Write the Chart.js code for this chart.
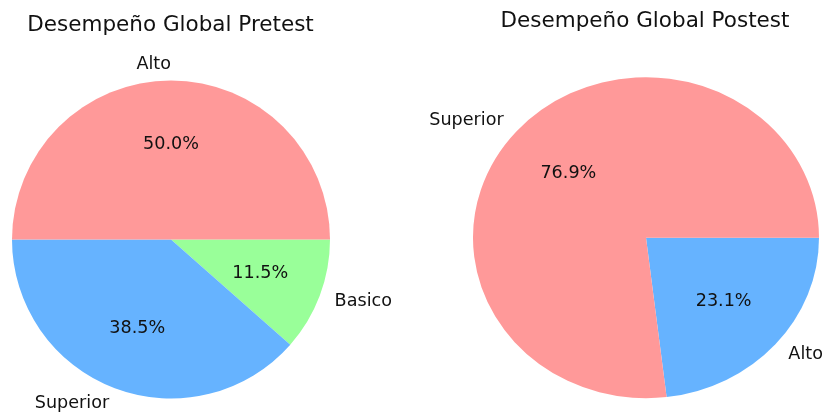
<!DOCTYPE html>
<html>
<head>
<meta charset="utf-8">
<script src="https://cdn.jsdelivr.net/npm/chart.js@4"></script>
<style>
  html, body { margin: 0; padding: 0; background: #fff; }
  .wrap { position: absolute; left: 0; top: 0; width: 825px; height: 415px; }
</style>
</head>
<body>
<div class="wrap"><canvas id="preChart"></canvas></div>
<div class="wrap"><canvas id="postChart"></canvas></div>
<script>
const preLabels = ["Alto", "Superior", "Basico"];
const preValues = [50.0, 38.5, 11.5];
const preColors = ["#ff9999", "#66b3ff", "#99ff99"];

const postLabels = ["Superior", "Alto"];
const postValues = [76.9, 23.1];
const postColors = ["#ff9999", "#66b3ff"];

const FONT = "'DejaVu Sans', sans-serif";

// matplotlib draws slices counterclockwise from 3 o'clock;
// Chart.js goes clockwise, so feed it the reversed order.
function rev(arr) {
  return arr.slice().reverse();
}

// stretch the pie horizontally (axes not equal) and draw labels / titles
function piePlugin(title, titleX, titleY, stretchX) {
  return {
    id: "pieText",
    beforeDatasetsDraw(chart) {
      const arc = chart.getDatasetMeta(0).data[0];
      const ctx = chart.ctx;
      ctx.save();
      ctx.translate(arc.x, arc.y);
      ctx.scale(stretchX, 1);
      ctx.translate(-arc.x, -arc.y);
    },
    afterDatasetsDraw(chart) {
      chart.ctx.restore();
    },
    afterDraw(chart) {
      const ctx = chart.ctx;
      const meta = chart.getDatasetMeta(0);
      const values = chart.data.datasets[0].data;
      const total = values.reduce((a, b) => a + b, 0);
      ctx.save();
      ctx.fillStyle = "#111";

      ctx.font = "21.5px " + FONT;
      ctx.textAlign = "center";
      ctx.textBaseline = "alphabetic";
      ctx.fillText(title, titleX, titleY);

      ctx.font = "17.6px " + FONT;
      ctx.textBaseline = "middle";
      meta.data.forEach((arc, i) => {
        const mid = (arc.startAngle + arc.endAngle) / 2;
        const r = arc.outerRadius;
        const c = Math.cos(mid), s = Math.sin(mid);

        ctx.textAlign = "center";
        ctx.fillText((values[i] / total * 100).toFixed(1) + "%",
          arc.x + 0.6 * r * c * stretchX, arc.y + 0.6 * r * s);

        ctx.textAlign = c < 0 ? "right" : "left";
        ctx.fillText(chart.data.labels[i],
          arc.x + 1.1 * r * c * stretchX, arc.y + 1.1 * r * s);
      });
      ctx.restore();
    }
  };
}

function makePie(id, labels, values, colors, radius, padding, plugin) {
  const el = document.getElementById(id);
  return new Chart(el, {
    type: "pie",
    data: {
      labels: rev(labels),
      datasets: [{
        data: rev(values),
        backgroundColor: rev(colors),
        borderWidth: 0,
        hoverOffset: 0,
        clip: false,
        radius: radius
      }]
    },
    options: {
      responsive: true,
      maintainAspectRatio: false,
      animation: false,
      events: [],
      rotation: 90,
      layout: { padding: padding },
      plugins: {
        legend: { display: false },
        tooltip: { enabled: false },
        title: { display: false }
      }
    },
    plugins: [plugin]
  });
}

makePie("preChart", preLabels, preValues, preColors, 159,
  { left: 12, right: 495, top: 80.5, bottom: 16.5 },
  piePlugin("Desempeño Global Pretest", 170.5, 30.5, 1));

makePie("postChart", postLabels, postValues, postColors, 160.5,
  { left: 485.5, right: 18.5, top: 77.2, bottom: 16.8 },
  piePlugin("Desempeño Global Postest", 645, 26.5, 173 / 160.5));
</script>
</body>
</html>
